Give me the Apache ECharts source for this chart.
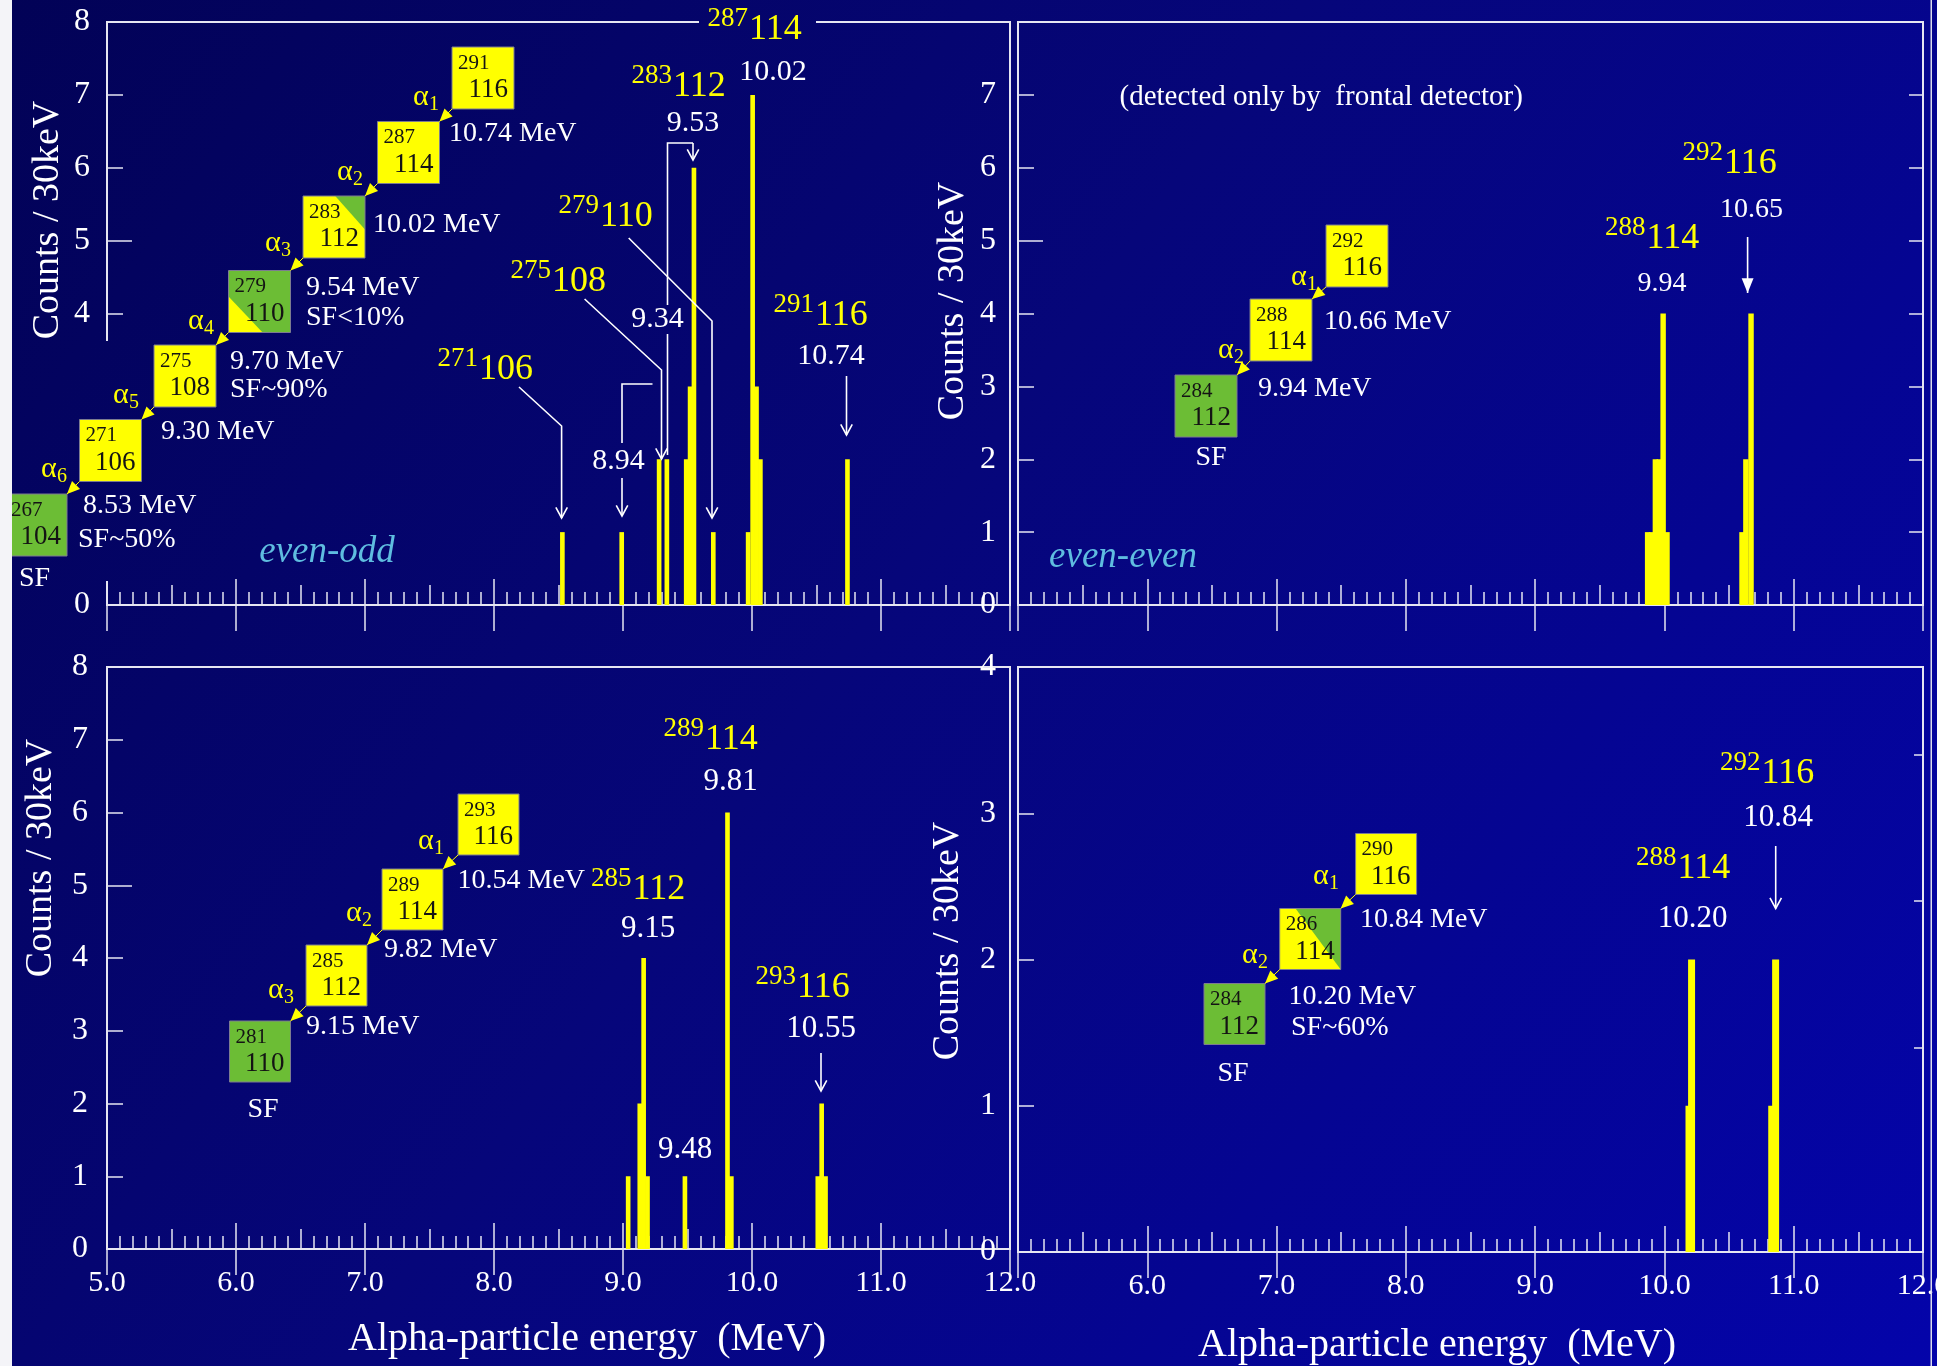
<!DOCTYPE html>
<html>
<head>
<meta charset="utf-8">
<script src="https://cdn.jsdelivr.net/npm/echarts@6/dist/echarts.min.js"></script>
<style>
  html, body { margin: 0; padding: 0; background: #02025a; }
  #main { width: 1937px; height: 1366px; }
</style>
</head>
<body>
<div id="main"></div>
<script>
// Alpha-particle spectra, counts per 30 keV bin: [energy (MeV), counts]
const spectrumEvenOddTop = [[8.53, 1], [8.99, 1], [9.28, 2], [9.34, 2], [9.49, 2], [9.52, 3], [9.55, 6],
  [9.70, 1], [9.97, 1], [10.005, 7], [10.035, 3], [10.065, 2], [10.74, 2]];
const spectrumEvenEvenTop = [[9.87, 1], [9.90, 1], [9.93, 2], [9.96, 2], [9.99, 4], [10.02, 1],
  [10.60, 1], [10.63, 2], [10.67, 4]];
const spectrumEvenOddBottom = [[9.04, 1], [9.13, 2], [9.16, 4], [9.19, 1], [9.48, 1], [9.81, 6], [9.84, 1],
  [10.51, 1], [10.54, 2], [10.57, 1]];
const spectrumEvenEvenBottom = [[10.19, 1], [10.21, 2], [10.83, 1], [10.86, 2]];

const energyRange = [5, 12];
const countMax = [8, 8, 8, 4];
const binHalfWidth = [0.018, 0.021, 0.018, 0.027];

const FONT = "'Liberation Serif','Times New Roman',serif";
const WHITE = '#ffffff';
const YEL = '#ffff00';
const GREEN = '#6cbd35';
const LINE = '#e6e6f2';

const W = 1937, H = 1366;
const bgStops = [[0, [2, 2, 86]], [0.45, [6, 6, 122]], [1, [4, 4, 170]]];
// page background as a canvas-wide gradient, reused for patches that must blend in
function bgFill() {
  return { type: 'linear', global: true, x: 0, y: 0, x2: W, y2: H,
    colorStops: bgStops.map(s => ({ offset: s[0], color: 'rgb(' + s[1].join(',') + ')' })) };
}

const grids = [
  { left: 107, top: 22, width: 903, height: 583 },
  { left: 1018, top: 22, width: 905, height: 583 },
  { left: 107, top: 667, width: 903, height: 582 },
  { left: 1018, top: 667, width: 905, height: 585 }
].map(g => Object.assign({
  show: true, borderColor: LINE, borderWidth: 2, backgroundColor: 'transparent',
  containLabel: false, outerBoundsMode: 'none'
}, g));

const tickStyle = { color: LINE, width: 1.5 };
const xAxes = [], yAxes = [];
grids.forEach((g, gi) => {
  // main bottom axis: integer ticks + labels on the lower panels
  xAxes.push({
    gridIndex: gi, type: 'value', position: 'bottom', min: energyRange[0], max: energyRange[1], interval: 1,
    axisLine: { show: false }, splitLine: { show: false },
    axisTick: { inside: true, length: 26, lineStyle: tickStyle },
    axisLabel: {
      show: gi >= 2, margin: 19, color: WHITE, fontSize: 30, fontFamily: FONT,
      showMinLabel: true, showMaxLabel: true, hideOverlap: false,
      formatter: v => (gi === 3 && v === 5) ? '' : v.toFixed(1)
    }
  });
  // half-MeV and 0.1 MeV ticks
  xAxes.push({
    gridIndex: gi, type: 'value', position: 'bottom', min: energyRange[0], max: energyRange[1], interval: 0.5,
    axisLine: { show: false }, splitLine: { show: false }, axisLabel: { show: false },
    axisTick: { inside: true, length: 20, lineStyle: tickStyle },
    minorTick: { show: true, splitNumber: 5, length: 13, lineStyle: tickStyle },
    minorSplitLine: { show: false }
  });
  // top edge ticks
  xAxes.push({
    gridIndex: gi, type: 'value', position: 'top', min: energyRange[0], max: energyRange[1], interval: 1,
    axisLine: { show: false }, splitLine: { show: false }, axisLabel: { show: false },
    axisTick: { inside: true, length: 26, lineStyle: tickStyle }
  });

  const ymax = countMax[gi];
  const labelMargin = [17, 22, 19, 22][gi];
  yAxes.push({
    gridIndex: gi, type: 'value', position: 'left', min: 0, max: ymax, interval: 1,
    axisLine: { show: false }, splitLine: { show: false },
    axisTick: { inside: true, length: 16, lineStyle: tickStyle },
    axisLabel: {
      margin: labelMargin, color: WHITE, fontSize: 32, fontFamily: FONT,
      showMinLabel: true, showMaxLabel: true,
      formatter: v => (gi === 1 && v === 8) ? '' : String(v)
    }
  });
  yAxes.push({
    gridIndex: gi, type: 'value', position: 'left', min: 0, max: ymax, interval: 5,
    show: gi !== 3,
    axisLine: { show: false }, splitLine: { show: false }, axisLabel: { show: false },
    axisTick: { inside: true, length: 25, lineStyle: tickStyle, customValues: [5] }
  });
  yAxes.push({
    gridIndex: gi, type: 'value', position: 'right', min: 0, max: ymax, interval: 1,
    show: gi === 1 || gi === 3,
    axisLine: { show: false }, splitLine: { show: false }, axisLabel: { show: false },
    axisTick: gi === 3
      ? { inside: true, length: 9, lineStyle: tickStyle, customValues: [1.4, 2.4, 3.4] }
      : { inside: true, length: 14, lineStyle: tickStyle }
  });
});

function histogram(half) {
  return function (params, api) {
    const e = api.value(0), c = api.value(1);
    const a = api.coord([e - half, c]);
    const b = api.coord([e + half, 0]);
    return {
      type: 'rect',
      shape: { x: a[0], y: a[1], width: b[0] - a[0], height: b[1] - a[1] },
      style: { fill: YEL }
    };
  };
}

const spectra = [spectrumEvenOddTop, spectrumEvenEvenTop, spectrumEvenOddBottom, spectrumEvenEvenBottom];
const series = spectra.map((d, gi) => ({
  type: 'custom', xAxisIndex: gi * 3, yAxisIndex: gi * 3, z: 3,
  renderItem: histogram(binHalfWidth[gi]), encode: { x: 0, y: 1 }, data: d
}));

// ---------- annotation helpers ----------
const els = [];
function txt(x, y, s, size, color, align, extra) {
  els.push({
    type: 'text', x: x, y: y, z: 60,
    style: Object.assign({
      text: s, fill: color, fontSize: size, fontFamily: FONT,
      align: align || 'left', verticalAlign: 'middle',
      textAlign: align || 'left', textVerticalAlign: 'middle'
    }, extra || {})
  });
}
function line(points, color, width) {
  els.push({ type: 'polyline', z: 55, shape: { points: points },
    style: { stroke: color || WHITE, lineWidth: width || 1.6, fill: null } });
}
function headPts(tip, from, len, spread) {
  const a = Math.atan2(tip[1] - from[1], tip[0] - from[0]);
  return [
    [tip[0] - len * Math.cos(a - spread), tip[1] - len * Math.sin(a - spread)],
    tip,
    [tip[0] - len * Math.cos(a + spread), tip[1] - len * Math.sin(a + spread)]
  ];
}
// open "V" arrow along a path of points; head at the last point
function arrow(points) {
  line(points);
  line(headPts(points[points.length - 1], points[points.length - 2], 12, 0.5));
}
function filledArrow(points, color) {
  line(points, color || WHITE);
  els.push({ type: 'polygon', z: 56, shape: { points: headPts(points[points.length - 1], points[points.length - 2], 16, 0.38) },
    style: { fill: color || WHITE } });
}
function nuc(xs, yb, mass, z) {
  txt(xs - 1, yb - 11, mass, 27, YEL, 'right');
  txt(xs, yb, z, 36, YEL, 'left');
}
function alpha(x, y, sub) {
  txt(x, y, 'α', 30, YEL, 'left');
  txt(x + 16, y + 8, sub, 20, YEL, 'left');
}
// nuclide box of the decay chain; split: optional second-colour triangle
function box(x, y, s, mass, z, fill, split) {
  els.push({ type: 'rect', z: 40, shape: { x: x, y: y, width: s, height: s }, style: { fill: fill } });
  if (split) {
    els.push({ type: 'polygon', z: 41,
      shape: { points: split.pts.map(p => [x + p[0] * s, y + p[1] * s]) }, style: { fill: split.fill } });
  }
  els.push({ type: 'rect', z: 42, shape: { x: x, y: y, width: s, height: s },
    style: { fill: null, stroke: '#7c7c90', lineWidth: 1 } });
  txt(x + 6, y + 16, mass, 21, '#141414', 'left');
  txt(x + s - 6, y + 43, z, 27, '#141414', 'right');
}
// yellow decay arrow from the bottom-left corner of one box to the top-right corner of the next
function decay(fromX, fromY, toX, toY) {
  line([[fromX, fromY], [toX, toY]], YEL, 1);
  els.push({ type: 'polygon', z: 57, shape: { points: headPts([toX, toY], [fromX, fromY], 14, 0.42) },
    style: { fill: YEL } });
}
function chain(boxes, s) {
  boxes.forEach(b => box(b.x, b.y, s, b.m, b.z, b.fill, b.split));
  for (let i = 0; i + 1 < boxes.length; i++) {
    const a = boxes[i], b = boxes[i + 1];
    decay(a.x, a.y + s, b.x + s, b.y);
  }
}

// ---------- background ----------
els.push({ type: 'rect', z: -100, silent: true, shape: { x: 0, y: 0, width: W, height: H }, style: { fill: bgFill() } });

const MEV = 28;
// ---------- upper left: even-odd chain from 291-116 ----------
// the chain diagram sits on its own backdrop, hiding the lower part of the count axis
els.push({ type: 'rect', z: 30, shape: { x: 12, y: 341, width: 120, height: 240 }, style: { fill: bgFill() } });
const triNE = { fill: GREEN, pts: [[0.52, 0], [1, 0], [1, 0.54]] };
const triSW = { fill: YEL, pts: [[0, 0.42], [0, 1], [0.55, 1]] };
chain([
  { x: 452, y: 47, m: '291', z: '116', fill: YEL },
  { x: 377.5, y: 121.5, m: '287', z: '114', fill: YEL },
  { x: 303, y: 196, m: '283', z: '112', fill: YEL, split: triNE },
  { x: 228.5, y: 270.5, m: '279', z: '110', fill: GREEN, split: triSW },
  { x: 154, y: 345, m: '275', z: '108', fill: YEL },
  { x: 79.5, y: 419.5, m: '271', z: '106', fill: YEL },
  { x: 5, y: 494, m: '267', z: '104', fill: GREEN }
], 62);
alpha(413, 97, '1'); alpha(337, 172, '2'); alpha(265, 243, '3');
alpha(188, 321, '4'); alpha(113, 395, '5'); alpha(41, 469, '6');
txt(449, 134, '10.74 MeV', MEV, WHITE);
txt(373, 225, '10.02 MeV', MEV, WHITE);
txt(306, 288, '9.54 MeV', MEV, WHITE); txt(306, 318, 'SF<10%', MEV, WHITE);
txt(230, 362, '9.70 MeV', MEV, WHITE); txt(230, 390, 'SF~90%', MEV, WHITE);
txt(161, 432, '9.30 MeV', MEV, WHITE);
txt(83, 506, '8.53 MeV', MEV, WHITE); txt(78, 540, 'SF~50%', MEV, WHITE);
txt(34.5, 579, 'SF', MEV, WHITE, 'center');
txt(327, 552, 'even-odd', 37, '#5fbde0', 'center', { fontStyle: 'italic' });

// peak labels
els.push({ type: 'rect', z: 50, shape: { x: 699, y: 12, width: 117, height: 22 }, style: { fill: bgFill() } });
nuc(749, 30, '287', '114');
txt(773, 72, '10.02', 30, WHITE, 'center');
nuc(673, 87, '283', '112');
txt(693, 123, '9.53', 30, WHITE, 'center');
nuc(600, 217, '279', '110');
nuc(552, 282, '275', '108');
nuc(479, 370, '271', '106');
nuc(815, 316, '291', '116');
txt(831, 356, '10.74', 30, WHITE, 'center');
txt(657.5, 319, '9.34', 30, WHITE, 'center');
txt(618.5, 461, '8.94', 30, WHITE, 'center');
arrow([[519, 387], [561.6, 426], [561.6, 518]]);
line([[652.5, 384], [622, 384], [622, 443]]);
arrow([[622, 478], [622, 516]]);
arrow([[584.6, 299], [661.5, 370], [661.5, 459]]);
line([[667.5, 305], [667.5, 143], [693, 143]]);
line([[667.5, 334], [667.5, 455]]);
arrow([[693, 143], [693, 160]]);
arrow([[628.7, 238], [712, 321], [712, 518]]);
arrow([[846.5, 376], [846.5, 435]]);

// ---------- upper right: even-even chain from 292-116 ----------
txt(1119.5, 97, '(detected only by  frontal detector)', 29, WHITE);
chain([
  { x: 1326, y: 225, m: '292', z: '116', fill: YEL },
  { x: 1250, y: 299, m: '288', z: '114', fill: YEL },
  { x: 1175, y: 375, m: '284', z: '112', fill: GREEN }
], 62);
alpha(1291, 277, '1'); alpha(1218, 350, '2');
txt(1324, 322, '10.66 MeV', MEV, WHITE);
txt(1258, 389, '9.94 MeV', MEV, WHITE);
txt(1211, 457.5, 'SF', MEV, WHITE, 'center');
txt(1123, 557, 'even-even', 37, '#5fbde0', 'center', { fontStyle: 'italic' });
nuc(1724, 164, '292', '116');
txt(1751.5, 210, '10.65', 28, WHITE, 'center');
filledArrow([[1747.6, 237], [1747.6, 293]]);
nuc(1646.5, 239, '288', '114');
txt(1662, 283.5, '9.94', 28, WHITE, 'center');

// ---------- lower left: even-odd chain from 293-116 ----------
chain([
  { x: 458, y: 794, m: '293', z: '116', fill: YEL },
  { x: 382, y: 869, m: '289', z: '114', fill: YEL },
  { x: 306, y: 945, m: '285', z: '112', fill: YEL },
  { x: 229.5, y: 1021, m: '281', z: '110', fill: GREEN }
], 61);
alpha(418, 841, '1'); alpha(346, 913, '2'); alpha(268, 990, '3');
txt(457.5, 881, '10.54 MeV', MEV, WHITE);
txt(384, 950, '9.82 MeV', MEV, WHITE);
txt(306, 1027, '9.15 MeV', MEV, WHITE);
txt(263, 1110, 'SF', MEV, WHITE, 'center');
nuc(632.5, 890, '285', '112');
txt(648, 929, '9.15', 31, WHITE, 'center');
nuc(705, 740, '289', '114');
txt(730.5, 781.5, '9.81', 31, WHITE, 'center');
txt(685, 1150, '9.48', 31, WHITE, 'center');
nuc(797, 988, '293', '116');
txt(821, 1029, '10.55', 31, WHITE, 'center');
arrow([[821, 1053], [821, 1091]]);

// ---------- lower right: even-even chain from 290-116 ----------
chain([
  { x: 1355.6, y: 833.5, m: '290', z: '116', fill: YEL },
  { x: 1279.7, y: 908.5, m: '286', z: '114', fill: YEL, split: { fill: GREEN, pts: [[0.26, 0], [1, 0], [1, 1]] } },
  { x: 1204, y: 983.5, m: '284', z: '112', fill: GREEN }
], 61);
alpha(1313, 876, '1'); alpha(1242, 955, '2');
txt(1360, 920, '10.84 MeV', MEV, WHITE);
txt(1288.6, 996.5, '10.20 MeV', MEV, WHITE);
txt(1291, 1028, 'SF~60%', MEV, WHITE);
txt(1233, 1074, 'SF', MEV, WHITE, 'center');
nuc(1677.5, 869, '288', '114');
txt(1692.5, 919, '10.20', 31, WHITE, 'center');
nuc(1761.5, 774, '292', '116');
txt(1778, 818, '10.84', 31, WHITE, 'center');
arrow([[1775.7, 846], [1775.7, 908.5]]);

// ---------- axis titles ----------
function vtitle(x, y) {
  els.push({ type: 'text', x: x, y: y, rotation: Math.PI / 2, z: 60,
    style: { text: 'Counts / 30keV', fill: WHITE, fontSize: 38, fontFamily: FONT,
      align: 'center', verticalAlign: 'middle', textAlign: 'center', textVerticalAlign: 'middle' } });
}
vtitle(48, 220); vtitle(953, 301); vtitle(41, 858); vtitle(948, 941);
txt(587, 1339, 'Alpha-particle energy  (MeV)', 40, WHITE, 'center');
txt(1437, 1345, 'Alpha-particle energy  (MeV)', 40, WHITE, 'center');

// page edges
els.push({ type: 'rect', z: 200, shape: { x: 0, y: 0, width: 12, height: H }, style: { fill: '#f4f4f8' } });
els.push({ type: 'rect', z: 200, shape: { x: 1930.5, y: 0, width: 1.5, height: H }, style: { fill: '#dcdcec' } });

const chart = echarts.init(document.getElementById('main'), null, { renderer: 'canvas', width: W, height: H });
chart.setOption({
  animation: false,
  backgroundColor: '#02025a',
  grid: grids,
  xAxis: xAxes,
  yAxis: yAxes,
  series: series,
  graphic: { elements: els }
});
</script>
</body>
</html>
